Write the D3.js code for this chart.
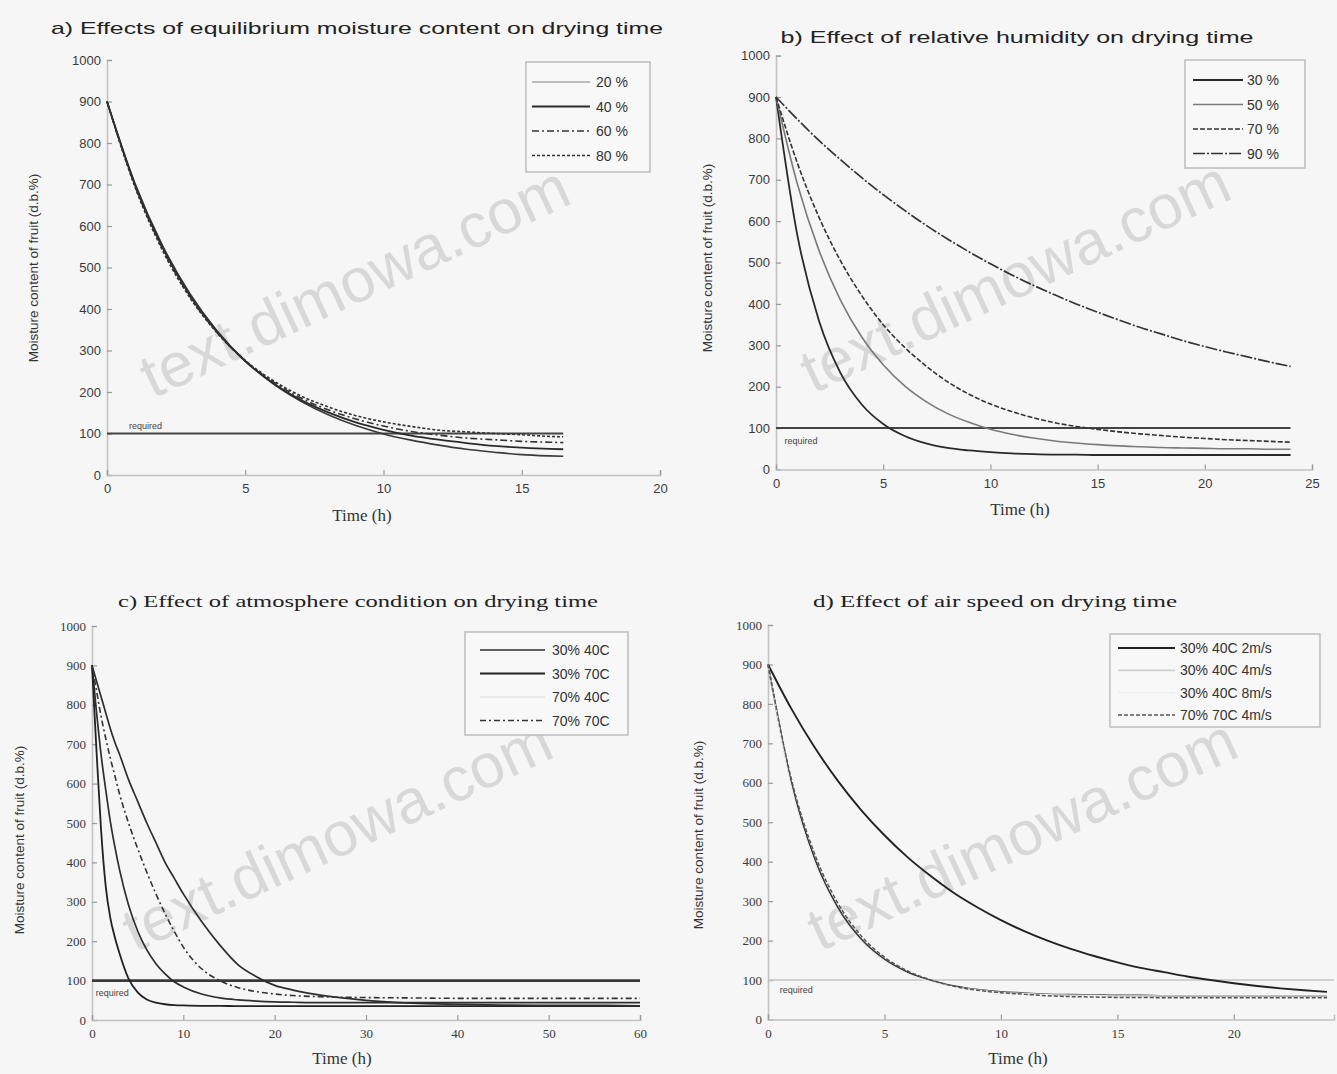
<!DOCTYPE html>
<html><head><meta charset="utf-8">
<script src="https://cdn.jsdelivr.net/npm/d3@7"></script>
<style>html,body{margin:0;padding:0;background:#f6f6f6;}svg{display:block;}</style>
</head><body>
<script>
// ---------------- DATA ----------------
const yTicks = [0,100,200,300,400,500,600,700,800,900,1000];
const requiredLevel = 100;

// a) equilibrium moisture content
const aTime = [0,1,2,3,4,5,6,7,8,9,10,11,12,13,14,15,16,16.5];
const aEMC20 = [900,705,554,437,346,275,220,178,145,119,99,84,72,62,55,49,46,45];
const aEMC40 = [900,701,549,432,343,274,222,181,151,127,109,95,85,77,70,66,63,62];
const aEMC60 = [900,699,546,430,342,275,225,186,157,135,118,105,96,89,85,81,79,78];
const aEMC80 = [900,696,542,427,341,276,228,191,164,143,128,117,108,104,100,97,93,92];
const aLabels = ["20 %","40 %","60 %","80 %"];
const aXTicks = [0,5,10,15,20];

// b) relative humidity
const bTime = [0,1,2,3,4,5,6,7,8,9,10,11,12,13,14,15,16,17,18,19,20,21,22,23,24];
const bRH30 = [900,565,360,234,157,110,81,63,52,46,42,39,37,36,36,35,35,35,35,35,35,35,35,35,35];
const bRH50 = [900,689,530,410,320,253,202,164,135,114,97,85,76,69,64,60,57,55,53,52,51,50,50,49,49];
const bRH70 = [900,740,610,505,420,350,295,250,212,182,158,140,125,113,104,97,91,86,82,78,75,72,70,68,66];
const bRH90 = [900,846,795,749,705,664,626,590,557,526,497,470,445,422,400,380,361,343,327,311,297,284,272,260,249];
const bLabels = ["30 %","50 %","70 %","90 %"];
const bXTicks = [0,5,10,15,20,25];

// c) atmosphere condition
const cTime = [0,0.5,1,1.5,2,2.5,3,4,5,6,7,8,9,10,12,14,16,18,20,22,25,30,35,40,45,50,55,60];
const c30_40 = [900,780,672,585,505,440,383,292,226,178,143,117,97,84,66,56,51,48,46,45,44,44,44,44,44,44,44,44];
const c30_70 = [900,680,480,340,260,210,170,105,70,52,44,40,38,37,36,36,35,35,35,35,35,35,35,35,35,35,35,35];
const c70_40 = [900,860,820,780,740,705,675,610,555,500,450,400,360,320,250,190,140,110,88,76,63,50,43,40,38,37,37,36];
const c70_70 = [900,835,770,715,665,620,575,500,435,375,320,270,225,185,130,100,82,72,66,62,59,57,56,55,55,55,55,55];
const cLabels = ["30% 40C","30% 70C","70% 40C","70% 70C"];
const cXTicks = [0,10,20,30,40,50,60];

// d) air speed
const dTime = [0,1,2,3,4,5,6,7,8,9,10,11,12,13,14,15,16,17,18,19,20,21,22,23,24];
const d2ms = [900,788,690,605,531,467,411,363,320,284,252,224,200,179,161,145,131,120,109,100,92,85,79,74,70];
const d4ms = [900,601,408,284,204,153,120,99,85,76,70,67,64,63,62,61,61,60,60,60,60,60,60,60,60];
const d8ms = [900,590,398,276,198,148,116,96,83,75,69,66,63,62,61,60,60,60,60,60,60,60,60,60,60];
const d70_4ms = [900,610,420,295,212,158,123,100,84,74,68,64,60,58,57,56,56,55,55,55,55,55,55,55,55];
const dLabels = ["30% 40C 2m/s","30% 40C 4m/s","30% 40C 8m/s","70% 70C 4m/s"];
const dXTicks = [0,5,10,15,20];

// ---------------- LAYOUT / STYLE ----------------
const SANS = "'Liberation Sans', Arial, sans-serif";
const SERIF = "'Liberation Serif', 'Times New Roman', serif";

const panels = [
  {title:"a) Effects of equilibrium moisture content on drying time", tFont:SANS, tX:357, tY:34, tLen:612,
   x0:107, x1:660, y0:475, y1:60, xMax:20, xTicks:aXTicks, time:aTime,
   series:[
     {v:aEMC20, stroke:"#3a3a3a", w:1.6, dash:null, lStroke:"#bdbdbd", lW:2.2},
     {v:aEMC40, stroke:"#2a2a2a", w:1.8, dash:null},
     {v:aEMC60, stroke:"#333", w:1.6, dash:"7,3,2,3"},
     {v:aEMC80, stroke:"#333", w:1.6, dash:"3,2"}],
   labels:aLabels, reqEnd:16.5, reqStroke:"#444", reqW:2, reqLabel:{t:0.8, v:112},
   yLabX:38, yLabY:268, xLabY:521, xLabX:362,
   legend:{x:526,y:62,w:124,h:110,row:24.5,first:82,sx:532,sw:58,tx:596}},
  {title:"b) Effect of relative humidity on drying time", tFont:SANS, tX:1017, tY:43, tLen:473,
   x0:776, x1:1312, y0:469.5, y1:55.6, xMax:25, xTicks:bXTicks, time:bTime,
   series:[
     {v:bRH30, stroke:"#2a2a2a", w:1.8, dash:null},
     {v:bRH50, stroke:"#7a7a7a", w:1.6, dash:null},
     {v:bRH70, stroke:"#333", w:1.6, dash:"5,2"},
     {v:bRH90, stroke:"#333", w:1.7, dash:"12,2,2,2"}],
   labels:bLabels, reqEnd:24, reqStroke:"#444", reqW:2, reqLabel:{t:0.4, v:62},
   yLabX:712, yLabY:258, xLabY:515, xLabX:1020,
   legend:{x:1185,y:60,w:120,h:108,row:24.5,first:80,sx:1193,sw:50,tx:1247}},
  {title:"c) Effect of atmosphere condition on drying time", tFont:SERIF, tX:358, tY:607, tLen:480,
   x0:92, x1:640, y0:1020, y1:626, xMax:60, xTicks:cXTicks, time:cTime,
   series:[
     {v:c30_40, stroke:"#2e2e2e", w:1.7, dash:null},
     {v:c30_70, stroke:"#222", w:1.8, dash:null},
     {v:c70_40, stroke:"#2e2e2e", w:1.7, dash:null, lStroke:"#e6e6e6"},
     {v:c70_70, stroke:"#333", w:1.6, dash:"6,3,2,3"}],
   labels:cLabels, reqEnd:60, reqStroke:"#3a3a3a", reqW:2.6, reqLabel:{t:0.4, v:62},
   yLabX:24, yLabY:840, xLabY:1064, xLabX:342,
   legend:{x:465,y:632,w:163,h:103,row:23.5,first:650,sx:480,sw:65,tx:552}},
  {title:"d) Effect of air speed on drying time", tFont:SERIF, tX:995, tY:607, tLen:364,
   x0:768, x1:1334, y0:1019.5, y1:625, xMax:24.3, xTicks:dXTicks, time:dTime,
   series:[
     {v:d2ms, stroke:"#222", w:1.9, dash:null},
     {v:d4ms, stroke:"#3a3a3a", w:1.7, dash:null, lStroke:"#cfcfcf"},
     {v:d8ms, stroke:"#ececec", w:1.2, dash:null},
     {v:d70_4ms, stroke:"#555", w:1.5, dash:"4,2"}],
   labels:dLabels, reqEnd:24.3, reqStroke:"#c4c4c4", reqW:1.6, reqLabel:{t:0.5, v:66},
   yLabX:703, yLabY:835, xLabY:1064, xLabX:1018,
   legend:{x:1110,y:634,w:210,h:93,row:22.3,first:648,sx:1118,sw:57,tx:1180}}
];

// ---------------- DRAW ----------------
const svg = d3.select("body").append("svg").attr("width",1337).attr("height",1074);
svg.append("rect").attr("width",1337).attr("height",1074).attr("fill","#f6f6f6");

panels.forEach(p => {
  const x = d3.scaleLinear().domain([0,p.xMax]).range([p.x0,p.x1]);
  const y = d3.scaleLinear().domain([0,1000]).range([p.y0,p.y1]);
  const g = svg.append("g");

  // axes
  const yAxis = d3.axisLeft(y).tickValues(yTicks).tickSize(-5).tickPadding(6).tickFormat(d3.format("d"));
  const xAxis = d3.axisBottom(x).tickValues(p.xTicks).tickSize(-5).tickPadding(9).tickFormat(d3.format("d"));
  const ya = g.append("g").attr("transform",`translate(${p.x0},0)`).call(yAxis);
  const xa = g.append("g").attr("transform",`translate(0,${p.y0})`).call(xAxis);
  [ya,xa].forEach(a=>{
    a.select(".domain").attr("stroke","#c2c2c2").attr("stroke-width",1.6);
    a.selectAll(".tick line").attr("stroke","#9a9a9a").attr("stroke-width",1.2);
    a.selectAll(".tick text").attr("fill","#3a3a3a").attr("font-family",p.tFont===SERIF?SERIF:SANS)
      .attr("font-size",13);
  });

  // watermark
  const cx = (p.x0+p.x1)/2 - 20, cy = p.y0 - (p.y0-p.y1)*0.42;
  g.append("text").attr("x",cx).attr("y",cy).attr("text-anchor","middle")
    .attr("transform",`rotate(-25,${cx},${cy})`)
    .attr("font-family",SANS).attr("font-size",62).attr("fill","#cfcfcf").attr("opacity",0.75)
    .text("text.dimowa.com");

  // required line
  g.append("line").attr("x1",x(0)).attr("x2",x(p.reqEnd)).attr("y1",y(requiredLevel)).attr("y2",y(requiredLevel))
    .attr("stroke",p.reqStroke).attr("stroke-width",p.reqW);
  g.append("text").attr("x",x(p.reqLabel.t)).attr("y",y(p.reqLabel.v)).attr("font-family",SANS)
    .attr("font-size",9).attr("fill","#444").text("required");

  // curves
  const line = d3.line().curve(d3.curveMonotoneX);
  p.series.forEach(s => {
    const pts = p.time.map((t,i)=>[x(t), y(s.v[i])]);
    g.append("path").attr("d",line(pts)).attr("fill","none").attr("stroke",s.stroke)
      .attr("stroke-width",s.w).attr("stroke-dasharray",s.dash);
  });

  // legend
  const L = p.legend;
  g.append("rect").attr("x",L.x).attr("y",L.y).attr("width",L.w).attr("height",L.h)
    .attr("fill","#f8f8f8").attr("stroke","#bdbdbd").attr("stroke-width",1.5);
  p.series.forEach((s,i)=>{
    const ly = L.first + i*L.row;
    g.append("line").attr("x1",L.sx).attr("x2",L.sx+L.sw).attr("y1",ly).attr("y2",ly)
      .attr("stroke",s.lStroke||s.stroke).attr("stroke-width",s.lW||s.w).attr("stroke-dasharray",s.dash);
    g.append("text").attr("x",L.tx).attr("y",ly+5).attr("font-family",SANS).attr("font-size",14)
      .attr("fill","#333").text(p.labels[i]);
  });

  // titles & labels
  g.append("text").attr("x",p.tX).attr("y",p.tY).attr("text-anchor","middle").attr("font-family",p.tFont)
    .attr("font-size",17).attr("fill","#222").attr("textLength",p.tLen).attr("lengthAdjust","spacingAndGlyphs")
    .text(p.title);
  g.append("text").attr("transform",`translate(${p.yLabX},${p.yLabY}) rotate(-90)`).attr("text-anchor","middle")
    .attr("font-family",SANS).attr("font-size",13.5).attr("fill","#333")
    .text("Moisture content of fruit (d.b.%)");
  g.append("text").attr("x",p.xLabX).attr("y",p.xLabY).attr("text-anchor","middle").attr("font-family",SERIF)
    .attr("font-size",17).attr("fill","#333").text("Time (h)");
});
</script>
</body></html>
